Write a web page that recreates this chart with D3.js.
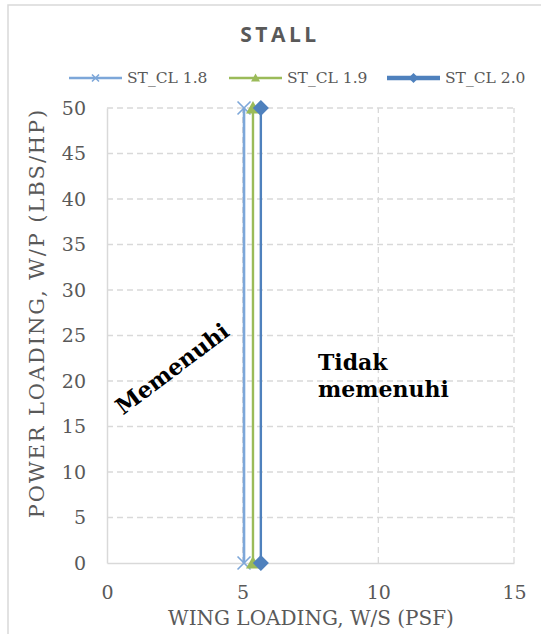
<!DOCTYPE html>
<html>
<head>
<meta charset="utf-8">
<script src="https://cdn.jsdelivr.net/npm/d3@7/dist/d3.min.js"></script>
<style>
  html, body { margin: 0; padding: 0; background: #fff; }
  svg { display: block; }
</style>
</head>
<body>
<div id="chart"></div>
<script>
// Stall constraint: wing loading limit for each maximum lift coefficient
const seriesNames = ["ST_CL 1.8", "ST_CL 1.9", "ST_CL 2.0"];
const wingLoading = [5.05, 5.38, 5.67];     // W/S (psf) at stall for each CL
const powerLoading = [0, 50];               // vertical constraint spans the W/P range
const seriesColors = ["#7da7d9", "#9bbb59", "#4f81bd"];
const seriesMarkers = ["cross", "triangle", "diamond"];
const xTicks = [0, 5, 10, 15];
const yTicks = [0, 5, 10, 15, 20, 25, 30, 35, 40, 45, 50];
const chartTitle = "STALL";
const xTitle = "WING LOADING, W/S (PSF)";
const yTitle = "POWER LOADING, W/P (LBS/HP)";
const regionLeft = "Memenuhi";
const regionRight = ["Tidak", "memenuhi"];

const W = 541, H = 634;
const margin = { left: 107, right: 27, top: 108, bottom: 71 };
const svg = d3.select("#chart").append("svg").attr("width", W).attr("height", H);

// outer chart frame
svg.append("rect").attr("x", 8).attr("y", 5).attr("width", W + 10).attr("height", H + 10)
  .attr("fill", "none").attr("stroke", "#d9d9d9").attr("stroke-width", 1.5);

const x = d3.scaleLinear().domain([0, 15]).range([margin.left, W - margin.right]);
const y = d3.scaleLinear().domain([0, 50]).range([H - margin.bottom, margin.top]);

const grid = "#d9d9d9";
const serif = "'DejaVu Serif', serif";

// dashed gridlines
svg.append("g").selectAll("line").data(yTicks.filter(d => d > 0)).join("line")
  .attr("x1", x(0)).attr("x2", x(15)).attr("y1", d => y(d)).attr("y2", d => y(d))
  .attr("stroke", grid).attr("stroke-width", 1.3).attr("stroke-dasharray", "6,4");
svg.append("g").selectAll("line").data(xTicks.filter(d => d > 0)).join("line")
  .attr("x1", d => x(d)).attr("x2", d => x(d)).attr("y1", y(0)).attr("y2", y(50))
  .attr("stroke", grid).attr("stroke-width", 1.3).attr("stroke-dasharray", "6,4");

// axes
const xAxis = svg.append("g").attr("transform", `translate(0,${y(0)})`)
  .call(d3.axisBottom(x).tickValues(xTicks).tickSize(0).tickPadding(23));
const yAxis = svg.append("g").attr("transform", `translate(${x(0)},0)`)
  .call(d3.axisLeft(y).tickValues(yTicks).tickSize(0).tickPadding(21));
[xAxis, yAxis].forEach(g => {
  g.select(".domain").attr("stroke", grid).attr("stroke-width", 1.5);
  g.selectAll("text").attr("font-family", serif).attr("font-size", 19).attr("fill", "#595959");
});

// marker shapes
function drawMarker(g, kind, cx, cy, size, color) {
  const s = size / 2;
  if (kind === "cross") {
    g.append("path").attr("d", `M${cx - s},${cy - s}L${cx + s},${cy + s}M${cx - s},${cy + s}L${cx + s},${cy - s}`)
      .attr("stroke", color).attr("stroke-width", 1.6).attr("fill", "none");
  } else if (kind === "triangle") {
    g.append("path").attr("d", `M${cx},${cy - s}L${cx + s},${cy + s * 0.8}L${cx - s},${cy + s * 0.8}Z`)
      .attr("fill", color);
  } else {
    g.append("path").attr("d", `M${cx},${cy - s}L${cx + s},${cy}L${cx},${cy + s}L${cx - s},${cy}Z`)
      .attr("fill", color);
  }
}

// series lines + markers
const widths = [2.6, 2.4, 2.4];
const markerSizes = [13, 14, 16];
const plot = svg.append("g");
seriesNames.forEach((name, i) => {
  const pts = powerLoading.map(p => [wingLoading[i], p]);
  plot.append("path")
    .attr("d", d3.line().x(d => x(d[0])).y(d => y(d[1]))(pts))
    .attr("stroke", seriesColors[i]).attr("stroke-width", widths[i]).attr("fill", "none");
});
seriesNames.forEach((name, i) => {
  powerLoading.forEach(p => drawMarker(plot, seriesMarkers[i], x(wingLoading[i]), y(p), markerSizes[i], seriesColors[i]));
});

// title
svg.append("text").attr("x", 280).attr("y", 42).attr("text-anchor", "middle")
  .attr("font-family", "'Open Sans', sans-serif").attr("font-weight", "bold").attr("font-size", 21)
  .attr("letter-spacing", 3.5).attr("fill", "#595959").text(chartTitle);

// legend
const legend = svg.append("g");
const legendX = [69, 229, 387];
const legendW = [2.5, 2.5, 4.5];
const legendMarker = [7, 9, 10];
seriesNames.forEach((name, i) => {
  const lx = legendX[i], ly = 78;
  legend.append("line").attr("x1", lx).attr("x2", lx + 53).attr("y1", ly).attr("y2", ly)
    .attr("stroke", seriesColors[i]).attr("stroke-width", legendW[i]);
  drawMarker(legend, seriesMarkers[i], lx + 26.5, ly, legendMarker[i], seriesColors[i]);
  legend.append("text").attr("x", lx + 58).attr("y", ly + 5)
    .attr("font-family", serif).attr("font-size", 15.5).attr("fill", "#595959").text(name);
});

// axis titles
svg.append("text").attr("x", 311).attr("y", 625).attr("text-anchor", "middle")
  .attr("font-family", serif).attr("font-size", 20).attr("fill", "#595959").text(xTitle);
svg.append("text").attr("transform", "translate(44,313) rotate(-90)").attr("text-anchor", "middle")
  .attr("font-family", serif).attr("font-size", 21).attr("letter-spacing", 1.9)
  .attr("fill", "#595959").text(yTitle);

// region annotations
svg.append("text").attr("transform", "translate(177,375) rotate(-37)").attr("text-anchor", "middle")
  .attr("font-family", serif).attr("font-weight", "bold").attr("font-size", 22.5).attr("fill", "#000")
  .text(regionLeft);
const rt = svg.append("text").attr("font-family", serif).attr("font-weight", "bold")
  .attr("font-size", 22).attr("fill", "#000");
regionRight.forEach((t, i) => rt.append("tspan").attr("x", 318).attr("y", 370 + i * 27).text(t));
</script>
</body>
</html>
